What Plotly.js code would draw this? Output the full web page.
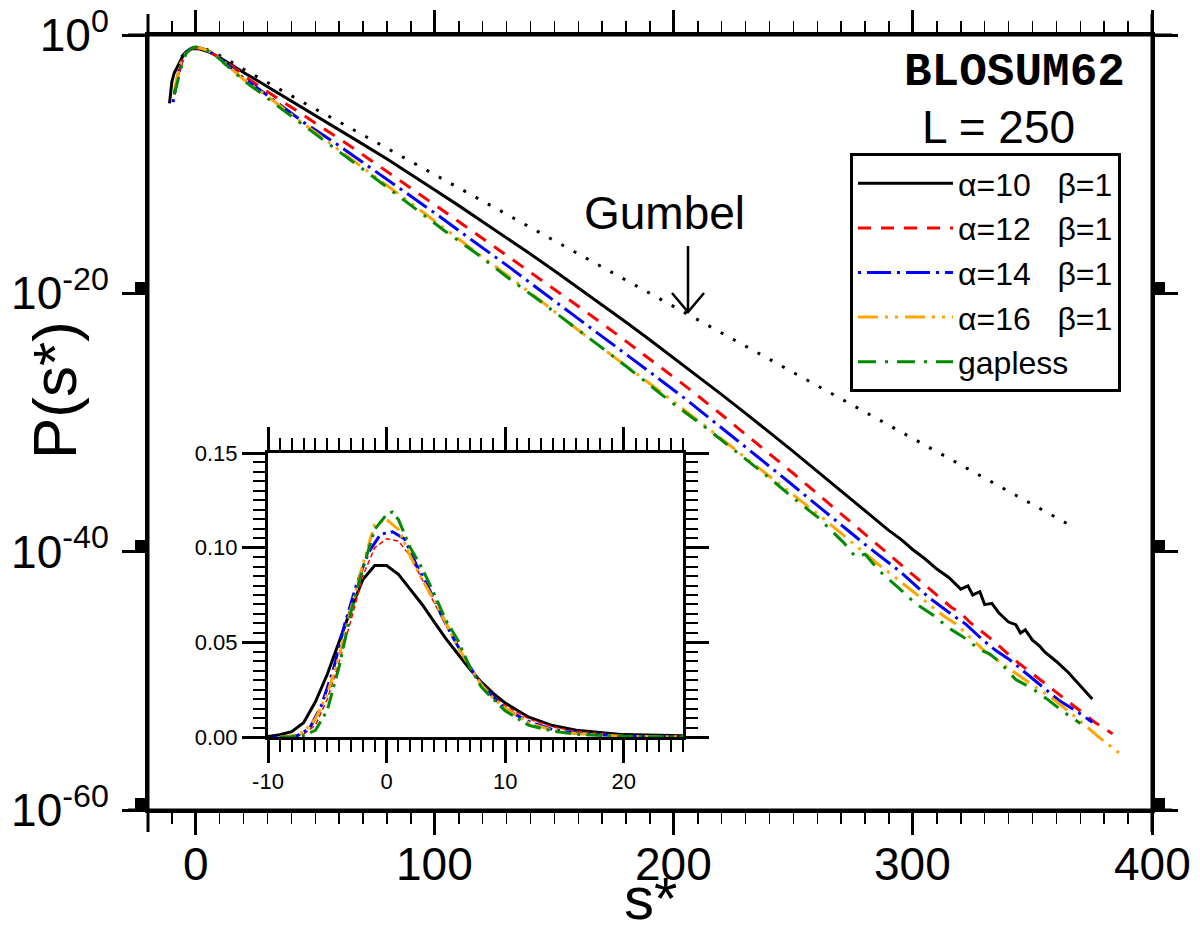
<!DOCTYPE html>
<html><head><meta charset="utf-8">
<script src="https://cdn.plot.ly/plotly-3.0.1.min.js"></script>
<style>body{margin:0;background:#fff}#chart{width:1200px;height:935px}</style>
</head><body><div id="chart"></div>
<script>
// ---- data: score s* and log10 P(s*) ----
const sBlack = [-11,-10,-9,-8,-7,-6,-5,-4,-3,-2,-1,0,1,2,3,4,5,6,7,8,9,10,12,14,16,20,25,30,40,50,60,70,80,90,100,110,120,130,140,150,160,170,180,190,200,210,220,230,240,250,260,270,280,290,295,300,305,310,315,320,323,325,328,330,333,336,340,343,345,347,350,353,355,360,365,370,375];
const logBlack = [-5.3,-3.6,-2.92,-2.55,-2.12,-1.73,-1.48,-1.30,-1.17,-1.08,-1.043,-1.043,-1.066,-1.108,-1.155,-1.215,-1.284,-1.357,-1.444,-1.538,-1.638,-1.745,-1.98,-2.22,-2.45,-2.9,-3.45,-4.0,-5.12,-6.23,-7.35,-8.47,-9.6,-10.78,-12.0,-13.21,-14.44,-15.69,-16.96,-18.25,-19.56,-20.89,-22.24,-23.61,-25.0,-26.41,-27.84,-29.29,-30.76,-32.25,-33.78,-35.31,-36.84,-38.37,-39.05,-39.85,-40.55,-41.35,-42.0,-42.9,-42.65,-43.35,-43.1,-44.1,-44.0,-44.75,-45.45,-45.65,-46.3,-46.05,-46.85,-47.3,-47.75,-48.5,-49.35,-50.35,-51.4];

const sRed = [-9,-8,-7,-6,-5,-4,-3,-2,-1,0,1,2,3,4,5,6,7,8,9,10,12,14,16,20,30,45,55,65,75,85,95,105,115,125,135,145,160,175,190,205,220,235,250,265,280,292,301,308,316,320,324,332,338,344,350,356,363,370,376,381,383.5];
const logRed = [-4.6,-3.6,-2.85,-2.2,-1.7,-1.40,-1.21,-1.07,-1.00,-0.98,-0.985,-1.02,-1.08,-1.15,-1.23,-1.32,-1.43,-1.54,-1.66,-1.78,-2.02,-2.27,-2.52,-3.15,-4.4,-6.2,-7.4,-8.65,-9.93,-11.2,-12.5,-13.8,-15.1,-16.4,-17.72,-19.05,-21.0,-23.02,-25.08,-27.2,-29.4,-31.65,-33.95,-36.3,-38.65,-40.5,-41.95,-43.05,-44.3,-44.75,-45.5,-46.65,-47.6,-48.6,-49.45,-50.3,-51.35,-52.35,-53.2,-53.8,-54.1];

const sBlue = [-9.5,-8.5,-7.5,-6.5,-5.5,-4.5,-3.5,-2.5,-1.5,-0.5,0.5,1.5,2.5,3.5,4.5,5.5,6.5,7.5,8.5,10,12,14,16,20,25,32,45,59,74,90,102,116,131,145,160,175,190,205,220,235,250,265,280,295,307,318,322,329,335,340,349,355,361,368,375];
const logBlue = [-5.2,-4.0,-3.1,-2.35,-1.78,-1.45,-1.22,-1.09,-1.01,-0.97,-0.965,-0.98,-1.04,-1.10,-1.18,-1.27,-1.37,-1.49,-1.61,-1.83,-2.09,-2.40,-2.70,-3.35,-4.0,-4.95,-6.75,-8.45,-10.4,-12.5,-14.05,-15.95,-17.95,-19.9,-21.95,-24.0,-26.1,-28.2,-30.4,-32.65,-34.9,-37.2,-39.45,-41.6,-43.6,-45.1,-45.6,-46.8,-47.7,-48.3,-49.7,-50.6,-51.5,-52.3,-53.2];

const sOrange = [-9,-8,-7,-6,-5,-4,-3,-2,-1,0,1,2,3,4,5,6,7,8,9,10,12,14,16,20,25,30,42,55,69,88,104,120,141,160,181,200,216,235,251,262,272,285,295,305,313,318,323,330,339,347,354,360,368,373,378,383,387];
const logOrange = [-4.3,-3.3,-2.6,-2.02,-1.64,-1.37,-1.17,-1.04,-0.95,-0.94,-0.96,-1.02,-1.08,-1.14,-1.22,-1.32,-1.43,-1.56,-1.69,-1.82,-2.13,-2.45,-2.75,-3.45,-4.1,-4.75,-6.45,-8.2,-10.15,-12.75,-14.95,-17.2,-20.1,-22.85,-25.75,-28.4,-30.7,-33.45,-35.75,-37.35,-38.9,-40.9,-42.35,-43.85,-45.0,-45.6,-46.5,-47.7,-48.9,-49.95,-50.85,-51.6,-52.8,-53.6,-54.4,-55.1,-55.7];

const sGreen = [-9,-8,-7,-6,-5,-4,-3,-2,-1,0,0.5,1,2,3,4,5,6,7,8,9,10,12,14,16,20,25,35,49,59,74,88,104,118,131,144,156,168,180,198,213,227,240,251,260,271,276,280,286,294,301,310,314,321,328,332,336,343,350,356,363,370];
const logGreen = [-4.6,-3.8,-3.1,-2.45,-1.85,-1.43,-1.18,-1.05,-0.96,-0.93,-0.925,-0.94,-1.0,-1.05,-1.12,-1.21,-1.29,-1.43,-1.58,-1.70,-1.86,-2.21,-2.5,-2.85,-3.55,-4.2,-5.6,-7.55,-8.9,-10.95,-12.9,-15.15,-17.0,-18.85,-20.6,-22.25,-23.95,-25.65,-28.3,-30.35,-32.4,-34.3,-36.0,-37.3,-39.3,-40.4,-40.2,-41.5,-42.8,-44.0,-45.1,-45.8,-46.6,-47.6,-47.9,-48.5,-49.9,-50.6,-51.4,-52.4,-53.3];

const sGumbel = [-6,-4,-2,0,2,4,6,8,10,14,20,30,40,50,60,80,100,120,140,160,180,200,220,240,260,280,300,320,340,360,366];
const logGumbel = [-1.7,-1.25,-1.02,-0.95,-0.98,-1.08,-1.22,-1.39,-1.58,-2.0,-2.65,-3.7,-4.72,-5.74,-6.73,-8.78,-10.82,-12.86,-14.9,-16.94,-18.99,-21.03,-23.07,-25.11,-27.15,-29.2,-31.24,-33.28,-35.32,-37.37,-37.98];

const seriesNames = ['α=10\u00a0\u00a0\u00a0β=1','α=12\u00a0\u00a0\u00a0β=1','α=14\u00a0\u00a0\u00a0β=1','α=16\u00a0\u00a0\u00a0β=1','gapless'];
const mainTicks = [0,100,200,300,400];
const mainTickText = ['0','100','200','300','400'];
const yTickVals = [1,1e-20,1e-40,1e-60];
const yTickText = ['10<sup>0</sup>','10<sup>-20</sup>','10<sup>-40</sup>','10<sup>-60</sup>'];
const insetXTicks = [-10,0,10,20];
const insetXText = ['-10','0','10','20'];
const insetYTicks = [0,0.05,0.10,0.15];
const insetYText = ['0.00','0.05','0.10','0.15'];

// ---- build ----
const toP = a => a.map(v => Math.pow(10, v));
const FONT = 'Liberation Sans, Arial, Helvetica, sans-serif';
const styles = [
  {color:'#000000', dash:'solid', iDash:'solid', iW:3},
  {color:'#ff0000', dash:'13px,10px', iDash:'5px,3px', iW:1.5},
  {color:'#0000ff', dash:'3px,6px,24px,6px', iDash:'3px,5px,18px,5px', iW:3},
  {color:'#ffa500', dash:'20px,7px,3px,7px,3px,7px', iDash:'16px,5px,3px,5px,3px,5px', iW:3},
  {color:'#008c00', dash:'18px,9px,3px,9px', iDash:'16px,6px,3px,6px', iW:3}
];
const data = [[sBlack,logBlack],[sRed,logRed],[sBlue,logBlue],[sOrange,logOrange],[sGreen,logGreen]];
const traces = [];
traces.push({x:sGumbel, y:toP(logGumbel), mode:'lines', xaxis:'x', yaxis:'y', showlegend:false,
  line:{color:'#000', width:3, dash:'3px,11px'}, hoverinfo:'skip'});
data.forEach((d,i)=>{
  traces.push({x:d[0], y:toP(d[1]), name:seriesNames[i], mode:'lines', xaxis:'x', yaxis:'y',
    line:{color:styles[i].color, width:3, dash:styles[i].dash}});
});
data.forEach((d,i)=>{
  traces.push({x:d[0], y:toP(d[1]), mode:'lines', xaxis:'x2', yaxis:'y2', showlegend:false,
    line:{color:styles[i].color, width:styles[i].iW, dash:styles[i].iDash}});
});

const px = v => (v-148)/1004, py = v => (810-v)/775;
const shp = [];
// axis line extensions
shp.push({type:'line', xref:'paper', yref:'paper', x0:px(128), x1:px(1172), y0:0, y1:0, line:{color:'#000', width:3}});
shp.push({type:'line', xref:'paper', yref:'paper', x0:px(128), x1:px(1172), y0:1, y1:1, line:{color:'#000', width:3}});
shp.push({type:'line', xref:'paper', yref:'paper', x0:0, x1:0, y0:py(832), y1:py(14), line:{color:'#000', width:3}});
shp.push({type:'line', xref:'paper', yref:'paper', x0:1, x1:1, y0:py(832), y1:py(14), line:{color:'#000', width:3}});
[294,552,810].forEach(yy=>{
  shp.push({type:'rect', xref:'paper', yref:'paper', x0:px(135), x1:0, y0:py(yy), y1:py(yy-12), fillcolor:'#000', line:{width:0}});
  shp.push({type:'rect', xref:'paper', yref:'paper', x0:1, x1:px(1165), y0:py(yy), y1:py(yy-12), fillcolor:'#000', line:{width:0}});
});
// Gumbel arrow
shp.push({type:'path', xref:'paper', yref:'paper',
  path:'M'+px(688)+','+py(246)+' L'+px(688)+','+py(312)+' M'+px(672)+','+py(293)+' L'+px(688)+','+py(312)+' L'+px(704)+','+py(293),
  line:{color:'#000', width:2.5}});

const axBase = {showline:true, linewidth:3, linecolor:'#000', mirror:'allticks', showgrid:false, zeroline:false,
  ticks:'outside', tickcolor:'#000', tickwidth:3};

// main x tick labels placed under the ticks
const tickAnn = mainTicks.map((v,i)=>({text:mainTickText[i], xref:'x', yref:'paper', x:v, y:py(864),
  xanchor:'center', yanchor:'middle', showarrow:false, font:{size:46, color:'#000'}}));

const layout = {
  width:1200, height:935,
  margin:{l:148, r:48, t:35, b:125},
  paper_bgcolor:'#fff', plot_bgcolor:'#fff',
  font:{family:FONT, color:'#000'},
  showlegend:true,
  legend:{x:px(850), y:py(153), xanchor:'left', yanchor:'top', bgcolor:'#fff', bordercolor:'#000', borderwidth:3,
    font:{size:32, family:FONT}, itemwidth:95, tracegroupgap:0},
  xaxis:Object.assign({}, axBase, {domain:[0,1], anchor:'y', range:[-20,400], tickvals:mainTicks, ticklen:22,
    minor:{dtick:10, tick0:0, ticks:'outside', ticklen:11, tickwidth:1.5, tickcolor:'#000'},
    showticklabels:false}),
  yaxis:Object.assign({}, axBase, {domain:[0,1], anchor:'x', type:'log', range:[-60,0], tickvals:yTickVals, ticktext:yTickText,
    ticklen:23, tickfont:{size:46}, ticklabelstandoff:4}),
  xaxis2:Object.assign({}, axBase, {domain:[px(268),px(683)], anchor:'y2', range:[-10,25], tickvals:insetXTicks, ticktext:insetXText, ticklen:23,
    minor:{dtick:1, tick0:0, ticks:'outside', ticklen:12, tickwidth:2, tickcolor:'#000'}, tickfont:{size:22}}),
  yaxis2:Object.assign({}, axBase, {domain:[py(737),py(453)], anchor:'x2', range:[0,0.15], tickvals:insetYTicks, ticktext:insetYText, ticklen:23,
    minor:{dtick:0.005, tick0:0, ticks:'outside', ticklen:12, tickwidth:2, tickcolor:'#000'}, tickfont:{size:22}}),
  shapes:shp,
  annotations:tickAnn.concat([
    {text:'<b>BLOSUM62</b>', xref:'paper', yref:'paper', x:px(1127), y:py(73), xanchor:'right', yanchor:'middle', showarrow:false,
      font:{family:'Liberation Mono, Courier New, monospace', size:46, color:'#000'}},
    {text:'L = 250', xref:'paper', yref:'paper', x:px(998), y:py(127), xanchor:'center', yanchor:'middle', showarrow:false,
      font:{size:46, color:'#000'}},
    {text:'Gumbel', xref:'paper', yref:'paper', x:px(664), y:py(213), xanchor:'center', yanchor:'middle', showarrow:false,
      font:{size:46, color:'#000'}},
    {text:'P(s*)', xref:'paper', yref:'paper', x:px(55), y:py(390), textangle:-90, xanchor:'center', yanchor:'middle', showarrow:false,
      font:{size:62, color:'#000'}},
    {text:'s*', xref:'paper', yref:'paper', x:px(650), y:py(898), xanchor:'center', yanchor:'middle', showarrow:false,
      font:{size:60, color:'#000'}}
  ])
};
Plotly.newPlot('chart', traces, layout, {displayModeBar:false, staticPlot:true});
</script></body></html>
